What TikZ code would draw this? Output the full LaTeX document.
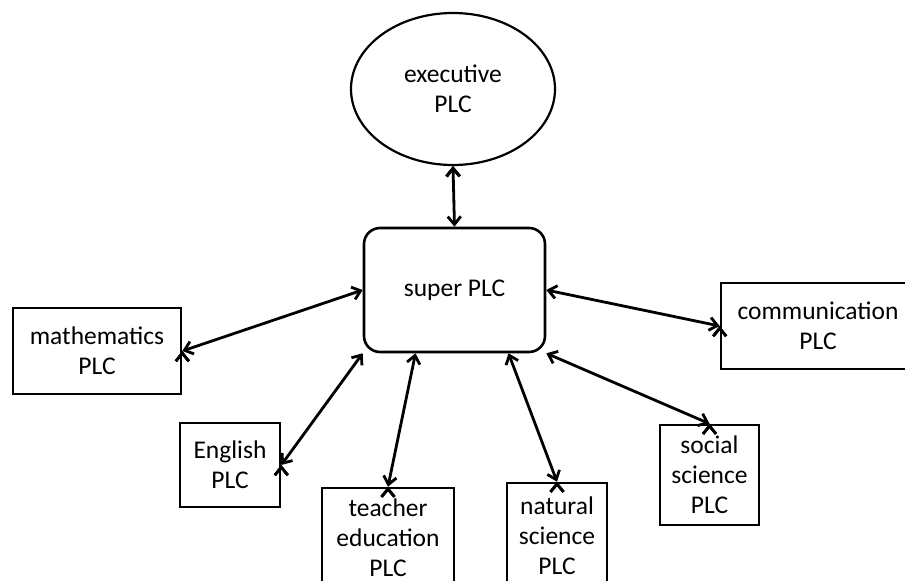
\documentclass[tikz,border=0pt]{standalone}
\usepackage{fontspec}
\setmainfont{Carlito}
\usepackage{tikz}
\usetikzlibrary{arrows.meta,positioning,shapes,calc}

\begin{document}
\begin{tikzpicture}[x=1pt, y=-1pt, line width=2.6pt, >={Straight Barb[length=8pt,width=13pt]},
  plc node/.style={rectangle,draw,align=center,inner sep=0pt,font=\fontsize{25.5}{30}\selectfont},
  top node/.style={ellipse,draw,align=center,inner sep=0pt,line width=2.2pt,font=\fontsize{25.5}{30}\selectfont},
  link/.style={<->,line width=2.8pt}]
\useasboundingbox (0,0) rectangle (905,581);
\clip (0,0) rectangle (905,581);
\begin{scope}
\node[top node,minimum width=204pt,minimum height=152pt] (exec) at (453,89) {executive\\PLC};
\node[plc node,rounded corners=16pt,minimum width=181pt,minimum height=124pt] (super) at (454.5,290) {super PLC};
\node[plc node,minimum width=168pt,minimum height=86pt] (math) at (97,351) {mathematics\\PLC};
\node[plc node,minimum width=100pt,minimum height=84pt] (english) at (230,465) {English\\PLC};
\node[plc node,minimum width=132pt,minimum height=100pt] (teacher) at (388,538) {teacher\\education\\PLC};
\node[plc node,minimum width=100pt,minimum height=106pt] (natural) at (557,536) {natural\\science\\PLC};
\node[plc node,minimum width=99pt,minimum height=100pt] (social) at (709.5,475) {social\\science\\PLC};
\node[plc node,minimum width=194pt,minimum height=86pt] (comm) at (818,326) {communication\\PLC};
\end{scope}
\begin{scope}
\draw[link] (exec.south) edge (super.north);
\draw[link] (math.east) edge (super.west);
\draw[link] (english.east) edge (super.south west);
\draw[link] (teacher.north) edge ([xshift=-39pt]super.south);
\draw[link] (natural.north) edge ([xshift=54pt]super.south);
\draw[link] (social.north) edge (super.south east);
\draw[link] (comm.west) edge (super.east);
\end{scope}
\end{tikzpicture}
\end{document}
